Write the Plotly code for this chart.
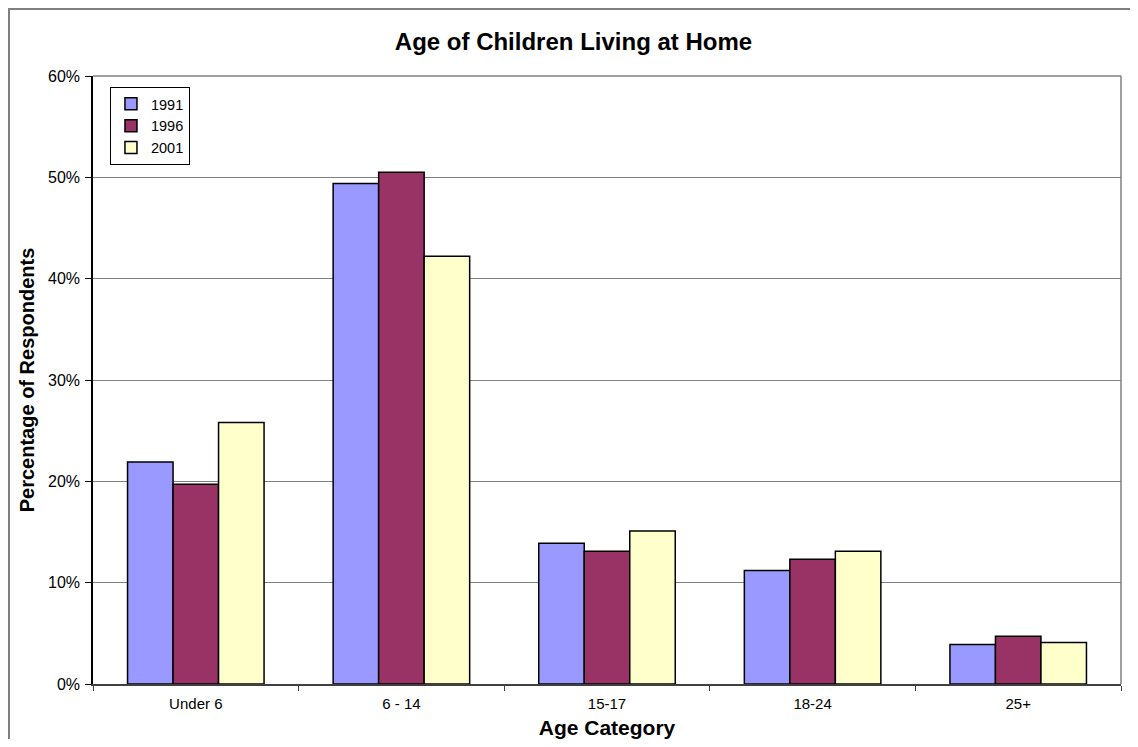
import plotly.graph_objects as go

categorias = ['Under 6', '6 - 14', '15-17', '18-24', '25+']
anos = ['1991', '1996', '2001']
valores_1991 = [21.9, 49.4, 13.9, 11.2, 3.9]
valores_1996 = [19.7, 50.5, 13.1, 12.3, 4.7]
valores_2001 = [25.8, 42.2, 15.1, 13.1, 4.1]
cores = ['#9999FF', '#993366', '#FFFFCC']

# a pagina tem 8px de margem no body
largura, altura = 1122, 731
m_esq, m_dir, m_topo, m_base = 85, 9, 68, 55
area_w = largura - m_esq - m_dir
area_h = altura - m_topo - m_base

fig = go.Figure()
for ano, vals, cor in zip(anos, [valores_1991, valores_1996, valores_2001], cores):
    fig.add_trace(go.Bar(
        x=categorias,
        y=vals,
        name=ano,
        marker=dict(color=cor, line=dict(color='black', width=1.5))
    ))

fig.update_layout(
    width=largura,
    height=altura,
    barmode='group',
    bargap=0.336,
    bargroupgap=0,
    paper_bgcolor='white',
    plot_bgcolor='white',
    font=dict(family='Liberation Sans, Arial', color='black', size=15),
    title=dict(
        text='<b>Age of Children Living at Home</b>',
        font=dict(size=24),
        x=0.504,
        xanchor='center',
        y=1 - 34 / altura,
        yanchor='middle'
    ),
    legend=dict(
        x=0.0165,
        y=0.982,
        xanchor='left',
        yanchor='top',
        bgcolor='white',
        bordercolor='black',
        borderwidth=1,
        font=dict(size=14.5),
        itemwidth=30
    ),
    margin=dict(l=m_esq, r=m_dir, t=m_topo, b=m_base),
    shapes=[
        dict(type='rect', xref='paper', yref='paper',
             x0=(-m_esq + 1) / area_w, x1=1.2, y0=-0.3, y1=(area_h + m_topo - 1) / area_h,
             line=dict(color='#808080', width=2), fillcolor='rgba(0,0,0,0)',
             layer='below'),
        dict(type='line', xref='paper', yref='paper',
             x0=0, x1=1, y0=1, y1=1, line=dict(color='#808080', width=1.5)),
        dict(type='line', xref='paper', yref='paper',
             x0=1, x1=1, y0=0, y1=1, line=dict(color='#808080', width=1.5)),
    ]
)

fig.update_xaxes(
    title=dict(text='<b>Age Category</b>', font=dict(size=21), standoff=14),
    automargin=False,
    showline=True,
    linecolor='#404040',
    linewidth=1.5,
    ticks='outside',
    tickson='boundaries',
    ticklen=5,
    tickcolor='#404040',
    ticklabelstandoff=5,
    showgrid=False,
    tickfont=dict(size=15)
)

fig.update_yaxes(
    title=dict(text='<b>Percentage of Respondents</b>', font=dict(size=20), standoff=8),
    automargin=False,
    range=[0, 60],
    dtick=10,
    ticksuffix='%',
    showline=True,
    linecolor='black',
    linewidth=1.5,
    ticks='outside',
    ticklen=6,
    tickcolor='black',
    ticklabelstandoff=2,
    showgrid=True,
    gridcolor='#808080',
    gridwidth=1,
    zeroline=False,
    tickfont=dict(size=16)
)

fig.write_html('out.html')
